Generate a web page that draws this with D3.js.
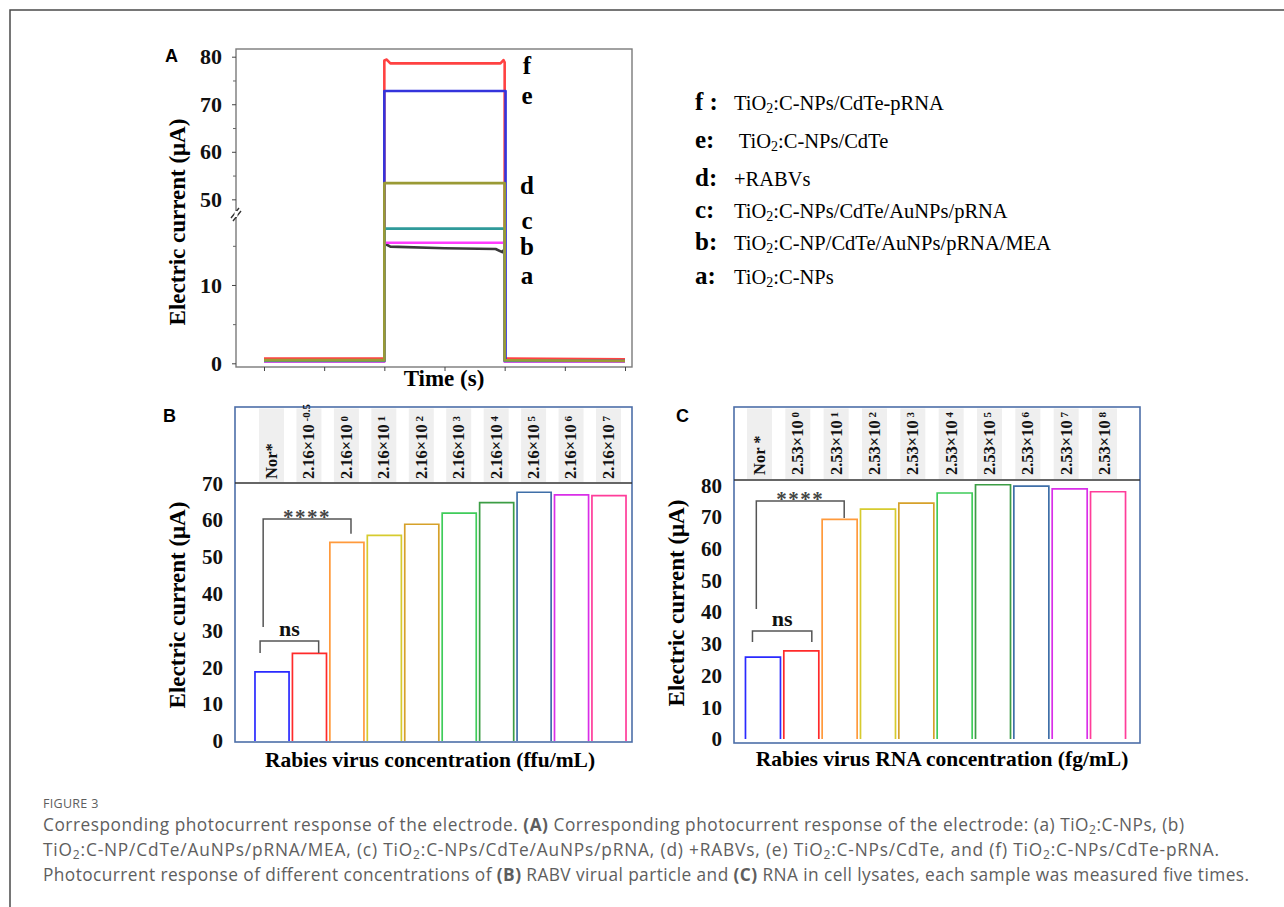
<!DOCTYPE html>
<html>
<head>
<meta charset="utf-8">
<script src="https://cdn.jsdelivr.net/npm/d3@7"></script>
<style>
  body { margin: 0; background: #fff; }
  svg { display: block; }
</style>
</head>
<body>
<svg id="fig" width="1284" height="907"></svg>
<script>
// ---- panel A : photocurrent traces, [time (s), current (uA)] ----
const timeTicks = [0, 10, 20, 30, 40, 50, 60];
const traceA = [[0, 0.3], [20, 0.3], [20, 15.3], [21, 14.9], [30, 14.7], [38.5, 14.6], [39.6, 14.2], [40, 14.6], [40, 0.3], [60, 0.2]];
const traceB = [[0, 0.2], [20, 0.2], [20, 15.4], [40, 15.4], [40, 0.2], [60, 0.2]];
const traceC = [[0, 0.3], [20, 0.3], [20, 17.2], [40, 17.2], [40, 0.3], [60, 0.3]];
const traceD = [[0, 0.4], [20, 0.4], [20, 53.4], [40, 53.4], [40, 0.4], [60, 0.3]];
const traceE = [[0, 0.3], [20, 0.3], [20, 72.8], [40.15, 72.8], [40.15, 0.3], [60, 0.3]];
const traceF = [[0, 0.6], [20, 0.6], [20, 79.2], [20.4, 79.4], [21, 78.6], [39.3, 78.6], [39.8, 79.3], [40, 78.8], [40, 0.6], [60, 0.5]];
const traceKeys = ["f", "e", "a", "b", "c", "d"];       // drawing order
const traces = { a: traceA, b: traceB, c: traceC, d: traceD, e: traceE, f: traceF };
const traceColors = { a: "#3a3a3a", b: "#ff3cff", c: "#2f9a9a", d: "#9a9a35", e: "#3434dc", f: "#ff4242" };
const yTicksA = [0, 10, 50, 60, 70, 80];
const yMinorA = [5, 15, 55, 65, 75];

const legendKeys = ["f :", "e:", "d:", "c:", "b:", "a:"];
const legendLabels = [
  "TiO_2:C-NPs/CdTe-pRNA",
  " TiO_2:C-NPs/CdTe",
  "+RABVs",
  "TiO_2:C-NPs/CdTe/AuNPs/pRNA",
  "TiO_2:C-NP/CdTe/AuNPs/pRNA/MEA",
  "TiO_2:C-NPs"
];

// ---- panel B : virus particles ----
const catsB = ["Nor*", "2.16×10", "2.16×10", "2.16×10", "2.16×10", "2.16×10", "2.16×10", "2.16×10", "2.16×10", "2.16×10"];
const expB = ["", "-0.5", "0", "1", "2", "3", "4", "5", "6", "7"];
const valuesB = [18.8, 23.8, 54.0, 55.9, 58.9, 61.9, 64.8, 67.6, 66.9, 66.7];
const yTicksB = [0, 10, 20, 30, 40, 50, 60, 70];

// ---- panel C : viral RNA ----
const catsC = ["Nor *", "2.53×10", "2.53×10", "2.53×10", "2.53×10", "2.53×10", "2.53×10", "2.53×10", "2.53×10", "2.53×10"];
const expC = ["", "0", "1", "2", "3", "4", "5", "6", "7", "8"];
const valuesC = [25.8, 27.8, 69.3, 72.5, 74.4, 77.6, 80.2, 79.8, 78.9, 78.0];
const yTicksC = [0, 10, 20, 30, 40, 50, 60, 70, 80];

const barColors = ["#2a2aff", "#ff2a2a", "#ff9a3c", "#d6cb2e", "#d6a12a", "#3fcc5a", "#3c9d45", "#3f6fa8", "#d92ee8", "#ff3d9a"];

// significance brackets: bar index + fraction across the band, heights in uA
const sigB = [
  { label: "ns", i0: 0, f0: 0.15, i1: 1, f1: 0.77, top: 27.2, leg0: 23.9, leg1: 23.9, stars: false },
  { label: "****", i0: 0, f0: 0.24, i1: 2, f1: 0.62, top: 60.3, leg0: 31.0, leg1: 56.3, stars: true }
];
const sigC = [
  { label: "ns", i0: 0, f0: 0.2, i1: 1, f1: 0.8, top: 34.1, leg0: 30.6, leg1: 30.6, stars: false },
  { label: "****", i0: 0, f0: 0.31, i1: 2, f1: 0.63, top: 75.1, leg0: 41.0, leg1: 69.7, stars: true }
];

const captionLines = [
  "Corresponding photocurrent response of the electrode. **(A)** Corresponding photocurrent response of the electrode: (a) TiO_2:C-NPs, (b)",
  "TiO_2:C-NP/CdTe/AuNPs/pRNA/MEA, (c) TiO_2:C-NPs/CdTe/AuNPs/pRNA, (d) +RABVs, (e) TiO_2:C-NPs/CdTe, and (f) TiO_2:C-NPs/CdTe-pRNA.",
  "Photocurrent response of different concentrations of **(B)** RABV virual particle and **(C)** RNA in cell lysates, each sample was measured five times."
];
const captionWidths = [1141, 1176, 1206];

const serif = "'Liberation Serif', 'Times New Roman', serif";
const sans = "'Liberation Sans', Arial, sans-serif";
const svg = d3.select("#fig");

// write "TiO_2" style subscripts and **bold** pieces into a text element
function richText(sel, str, subSize) {
  const parts = str.split(/(_\d|\*\*[^*]+\*\*)/).filter(p => p !== "");
  parts.forEach(p => {
    if (p.startsWith("_")) {
      sel.append("tspan").attr("baseline-shift", "-22%").attr("font-size", subSize).text(p.slice(1));
    } else if (p.startsWith("**")) {
      sel.append("tspan").attr("font-weight", "bold").text(p.slice(2, -2));
    } else {
      sel.append("tspan").text(p);
    }
  });
}

// outer frame
svg.append("path").attr("d", "M10,907V10H1284").attr("fill", "none").attr("stroke", "#4a4a4a").attr("stroke-width", 1.5);

// ================= PANEL A =================
const xA = d3.scaleLinear().domain([0, 60]).range([264, 625]);
const yA = d3.scaleLinear().domain([0, 19, 47, 80]).range([363.3, 214.5, 213.6, 56.7]);

const gA = svg.append("g");
gA.append("rect").attr("x", 236).attr("y", 49).attr("width", 396).attr("height", 318)
  .attr("fill", "none").attr("stroke", "#7a7a7a").attr("stroke-width", 1.4);

const axA = gA.append("g").attr("transform", "translate(236,0)")
  .call(d3.axisLeft(yA).tickValues(yTicksA).tickSize(4).tickPadding(10));
axA.select(".domain").remove();
axA.selectAll("text").attr("font-family", serif).attr("font-weight", "bold").attr("font-size", 22).attr("fill", "#111");
axA.selectAll("line").attr("stroke", "#444");
const axAm = gA.append("g").attr("transform", "translate(236,0)")
  .call(d3.axisLeft(yA).tickValues(yMinorA).tickSize(3).tickFormat(""));
axAm.select(".domain").remove();
axAm.selectAll("line").attr("stroke", "#666");

// axis break mark
gA.append("path").attr("d", "M231,218L239,208M233,221L241,211").attr("stroke", "#333").attr("stroke-width", 1.4).attr("fill", "none");
gA.append("rect").attr("x", 234.5).attr("y", 211).attr("width", 3).attr("height", 6).attr("fill", "#fff");

const axAx = gA.append("g").attr("transform", "translate(0,367)")
  .call(d3.axisBottom(xA).tickValues(timeTicks).tickSize(4).tickFormat(""));
axAx.select(".domain").remove();
axAx.selectAll("line").attr("stroke", "#444");

const lineA = d3.line().x(d => xA(d[0])).y(d => yA(d[1]));
gA.selectAll(".trace").data(traceKeys).join("path")
  .attr("class", "trace")
  .attr("d", k => lineA(traces[k]))
  .attr("fill", "none")
  .attr("stroke", k => traceColors[k])
  .attr("stroke-width", 2.6)
  .attr("stroke-linejoin", "round");

// trace letters on the right of the plot
const letterY = { f: 74, e: 104, d: 194, c: 229, b: 255, a: 284 };
gA.selectAll(".tlab").data(["f", "e", "d", "c", "b", "a"]).join("text")
  .attr("x", 527).attr("y", k => letterY[k])
  .attr("text-anchor", "middle")
  .attr("font-family", serif).attr("font-weight", "bold").attr("font-size", 25)
  .text(k => k);

gA.append("text").attr("x", 165).attr("y", 62).attr("font-family", sans).attr("font-weight", "bold").attr("font-size", 18).text("A");
gA.append("text").attr("transform", "translate(185,222) rotate(-90)").attr("text-anchor", "middle")
  .attr("font-family", serif).attr("font-weight", "bold").attr("font-size", 23).text("Electric current (μA)");
gA.append("text").attr("x", 444).attr("y", 386).attr("text-anchor", "middle")
  .attr("font-family", serif).attr("font-weight", "bold").attr("font-size", 23).text("Time (s)");

// legend
const legY = [110, 148, 186, 218, 250, 284];
const leg = svg.append("g");
legendKeys.forEach((k, i) => {
  leg.append("text").attr("x", 695).attr("y", legY[i])
    .attr("font-family", serif).attr("font-weight", "bold").attr("font-size", 25).text(k);
  const t = leg.append("text").attr("x", 734).attr("y", legY[i])
    .attr("font-family", serif).attr("font-size", 20.5).attr("xml:space", "preserve");
  richText(t, legendLabels[i], 14);
});

// ================= PANELS B and C =================
function barPanel(o) {
  const g = svg.append("g");
  const x = d3.scaleBand().domain(d3.range(o.values.length)).range(o.xRange)
    .paddingInner(o.pad).paddingOuter(o.pad / 2);
  const y = d3.scaleLinear().domain([0, o.yMax]).range(o.yRange);

  g.append("rect").attr("x", o.box[0]).attr("y", o.box[1]).attr("width", o.box[2] - o.box[0]).attr("height", o.box[3] - o.box[1])
    .attr("fill", "none").attr("stroke", "#4d6ea8").attr("stroke-width", 1.6);

  // grey strips + rotated category labels
  g.selectAll(".strip").data(o.cats).join("rect")
    .attr("x", (d, i) => x(i) + x.bandwidth() / 2 + o.labShift - 12)
    .attr("y", o.box[1] + 1.5).attr("width", 25).attr("height", o.headerY - o.box[1] - 2.5)
    .attr("fill", "#efefef");
  const lab = g.selectAll(".cat").data(o.cats).join("text")
    .attr("transform", (d, i) => `translate(${x(i) + x.bandwidth() / 2 + o.labShift},${o.labBottom}) rotate(-90)`)
    .attr("dy", "0.36em")
    .attr("font-family", serif).attr("font-weight", "bold").attr("font-size", 16.5).attr("fill", "#111")
    .attr("xml:space", "preserve");
  lab.each(function (d, i) {
    const t = d3.select(this);
    t.append("tspan").text(d);
    if (o.exps[i]) t.append("tspan").attr("font-size", 11).attr("baseline-shift", "4").text(" " + o.exps[i]);
  });

  g.append("line").attr("x1", o.box[0]).attr("x2", o.box[2]).attr("y1", o.headerY).attr("y2", o.headerY)
    .attr("stroke", "#333").attr("stroke-width", 1.6);

  const ax = g.append("g").attr("transform", `translate(${o.box[0]},0)`)
    .call(d3.axisLeft(y).tickValues(o.ticks).tickSize(0).tickPadding(12));
  ax.select(".domain").remove();
  ax.selectAll("text").attr("font-family", serif).attr("font-weight", "bold").attr("font-size", 21).attr("fill", "#111");

  // open-bottom bar outlines
  g.selectAll(".bar").data(o.values).join("path")
    .attr("d", (v, i) => `M${x(i)},${y(0)}V${y(v)}H${x(i) + x.bandwidth()}V${y(0)}`)
    .attr("fill", "none").attr("stroke", (v, i) => barColors[i]).attr("stroke-width", 1.7);

  // significance brackets
  o.sig.forEach(s => {
    const xa = x(s.i0) + x.bandwidth() * s.f0, xb = x(s.i1) + x.bandwidth() * s.f1;
    g.append("path").attr("d", `M${xa},${y(s.leg0)}V${y(s.top)}H${xb}V${y(s.leg1)}`)
      .attr("fill", "none").attr("stroke", "#555").attr("stroke-width", 1.5);
    g.append("text").attr("x", (xa + xb) / 2).attr("y", y(s.top) + (s.stars ? 5 : -5))
      .attr("text-anchor", "middle").attr("font-family", serif)
      .attr("font-weight", "bold").attr("font-size", s.stars ? 21 : 22)
      .attr("letter-spacing", s.stars ? 1.5 : 0).attr("fill", s.stars ? "#444" : "#111")
      .text(s.label);
  });

  g.append("text").attr("x", o.letter[0]).attr("y", o.letter[1]).attr("font-family", sans).attr("font-weight", "bold").attr("font-size", 18).text(o.name);
  g.append("text").attr("transform", `translate(${o.yTitle[0]},${o.yTitle[1]}) rotate(-90)`).attr("text-anchor", "middle")
    .attr("font-family", serif).attr("font-weight", "bold").attr("font-size", 23).text("Electric current (μA)");
  g.append("text").attr("x", o.xTitle[0]).attr("y", o.xTitle[1]).attr("text-anchor", "middle")
    .attr("font-family", serif).attr("font-weight", "bold").attr("font-size", 21.5).text(o.xLabel);
}

barPanel({
  name: "B", cats: catsB, exps: expB, values: valuesB, ticks: yTicksB, yMax: 70,
  xRange: [253.3, 627.7], pad: 0.09, yRange: [741, 483.4],
  box: [235, 407, 632, 742], headerY: 483, labBottom: 479, labShift: -1,
  sig: sigB, letter: [163, 422], yTitle: [185, 605], xTitle: [430, 767],
  xLabel: "Rabies virus concentration (ffu/mL)"
});
barPanel({
  name: "C", cats: catsC, exps: expC, values: valuesC, ticks: yTicksC, yMax: 80,
  xRange: [743.8, 1127.2], pad: 0.087, yRange: [739, 485.4],
  box: [734, 407, 1140, 743], headerY: 480, labBottom: 475, labShift: -4,
  sig: sigC, letter: [676, 422], yTitle: [684, 603], xTitle: [942, 766],
  xLabel: "Rabies virus RNA concentration (fg/mL)"
});

// ================= caption =================
const cap = svg.append("g").attr("font-family", "'Open Sans', Lato, sans-serif").attr("fill", "#5e5e5e");
cap.append("text").attr("x", 43).attr("y", 808).attr("font-size", 12.5).attr("letter-spacing", 0.3).text("FIGURE 3");
captionLines.forEach((line, i) => {
  const t = cap.append("text").attr("x", 43).attr("y", 831 + i * 25).attr("font-size", 17.3)
    .attr("textLength", captionWidths[i]).attr("lengthAdjust", "spacing");
  richText(t, line, 12);
});
</script>
</body>
</html>
